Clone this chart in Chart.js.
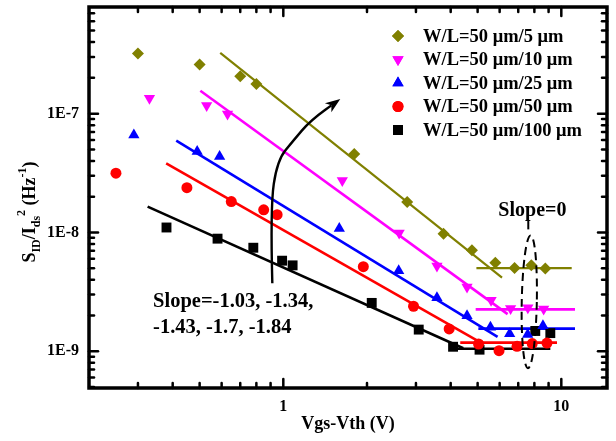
<!DOCTYPE html>
<html>
<head>
<meta charset="utf-8">
<script src="https://cdn.jsdelivr.net/npm/chart.js@4.4.1/dist/chart.umd.min.js"></script>
<style>
  html, body { margin: 0; padding: 0; background: #fff; }
  #c { display: block; }
</style>
</head>
<body>
<canvas id="c" width="616" height="441"></canvas>
<script>
// Vgs-Vth (V) and S_ID/I_ds^2 (Hz^-1), one pair per W/L
const vgs5   = [0.30, 0.50, 0.70, 0.80, 1.80, 2.79, 3.77, 4.77, 5.79, 6.79, 7.80, 8.76];
const sid5   = [3.21e-7, 2.59e-7, 2.06e-7, 1.78e-7, 4.58e-8, 1.80e-8, 9.76e-9, 7.06e-9, 5.56e-9, 5.01e-9, 5.28e-9, 4.96e-9];
const vgs10  = [0.33, 0.53, 0.63, 1.63, 2.61, 3.57, 4.58, 5.59, 6.57, 7.58, 8.64];
const sid10  = [1.35e-7, 1.17e-7, 9.94e-8, 2.74e-8, 9.9e-9, 5.22e-9, 3.47e-9, 2.69e-9, 2.29e-9, 2.32e-9, 2.27e-9];
const vgs25  = [0.29, 0.49, 0.59, 1.59, 2.60, 3.57, 4.58, 5.56, 6.52, 7.57, 8.59];
const sid25  = [6.6e-8, 4.8e-8, 4.35e-8, 1.08e-8, 4.75e-9, 2.82e-9, 1.99e-9, 1.59e-9, 1.40e-9, 1.38e-9, 1.64e-9];
const vgs50  = [0.25, 0.45, 0.65, 0.85, 0.95, 1.94, 2.94, 3.95, 5.04, 5.97, 6.93, 7.86, 8.88];
const sid50  = [3.15e-8, 2.38e-8, 1.82e-8, 1.55e-8, 1.41e-8, 5.15e-9, 2.39e-9, 1.54e-9, 1.15e-9, 1.01e-9, 1.10e-9, 1.16e-9, 1.17e-9];
const vgs100 = [0.38, 0.58, 0.78, 0.99, 1.08, 2.08, 3.07, 4.08, 5.08, 8.06, 9.13];
const sid100 = [1.10e-8, 8.86e-9, 7.43e-9, 5.78e-9, 5.28e-9, 2.55e-9, 1.52e-9, 1.09e-9, 1.03e-9, 1.48e-9, 1.42e-9];

// power-law fits (start, end) and flat tails
const fitX5 = [0.593, 6.12],  fitY5 = [3.24e-7, 4.16e-9];
const fitX10 = [0.503, 6.41], fitY10 = [1.56e-7, 2.05e-9];
const fitX25 = [0.412, 5.90], fitY25 = [5.93e-8, 1.32e-9];
const fitX50 = [0.379, 5.08], fitY50 = [3.82e-8, 1.20e-9];
const fitX100 = [0.325, 4.44], fitY100 = [1.65e-8, 1.06e-9];
const flatX5 = [4.95, 10.9],  flatY5 = [5.0e-9, 5.0e-9];
const flatX10 = [4.92, 11.2], flatY10 = [2.25e-9, 2.25e-9];
const flatX25 = [5.03, 11.2], flatY25 = [1.55e-9, 1.55e-9];
const flatX50 = [4.33, 9.65], flatY50 = [1.18e-9, 1.18e-9];
const flatX100 = [4.22, 9.13], flatY100 = [1.05e-9, 1.05e-9];

const labels = ['W/L=50 \u03bcm/5 \u03bcm', 'W/L=50 \u03bcm/10 \u03bcm', 'W/L=50 \u03bcm/25 \u03bcm', 'W/L=50 \u03bcm/50 \u03bcm', 'W/L=50 \u03bcm/100 \u03bcm'];
const colors = ['#808000', '#ff00ff', '#0000ff', '#ff0000', '#000000'];
const xTicks = [1, 10];
const yTicks = [1e-9, 1e-8, 1e-7];

// annotation anchors, in data units
const arcX = [0.913, 0.898, 0.951, 1.086, 1.251, 1.603];
const arcY = [3.73e-9, 1.63e-8, 4.03e-8, 5.93e-8, 8.73e-8, 1.33e-7];
const slopeLines = ['Slope=-1.03, -1.34,', '-1.43, -1.7, -1.84'];
const slopeTextX = 0.34, slopeTextY = [2.63e-9, 1.59e-9];
const zeroText = 'Slope=0', zeroX = 7.87, zeroY = 1.53e-8;
const ellX = [7.22, 7.67, 8.18], ellY = [9.44e-9, 7.19e-10];

const pts = (xs, ys) => xs.map((v, i) => ({ x: v, y: ys[i] }));
const FONT = 'Liberation Serif';

const markers = [
  { style: 'rectRot', r: 6, rot: 0 },
  { style: 'triangle', r: 6.5, rot: 180 },
  { style: 'triangle', r: 6.5, rot: 0 },
  { style: 'circle', r: 5.5, rot: 0 },
  { style: 'rect', r: 7, rot: 0 }
];
const series = [[vgs5, sid5], [vgs10, sid10], [vgs25, sid25], [vgs50, sid50], [vgs100, sid100]];
const fits = [[fitX5, fitY5, flatX5, flatY5], [fitX10, fitY10, flatX10, flatY10], [fitX25, fitY25, flatX25, flatY25],
              [fitX50, fitY50, flatX50, flatY50], [fitX100, fitY100, flatX100, flatY100]];

const datasets = [];
series.forEach((s, i) => {
  datasets.push({
    label: labels[i], data: pts(s[0], s[1]), showLine: false,
    pointStyle: markers[i].style, pointRadius: markers[i].r, pointRotation: markers[i].rot,
    backgroundColor: colors[i], borderColor: colors[i], pointBorderWidth: 0
  });
});
fits.forEach((f, i) => {
  [[f[0], f[1]], [f[2], f[3]]].forEach(p => {
    datasets.push({
      label: '', data: pts(p[0], p[1]), showLine: true, pointRadius: 0,
      borderColor: colors[i], borderWidth: i === 0 ? 2.2 : 2.6
    });
  });
});

const noPad = s => { s.paddingTop = 0; s.paddingBottom = 0; s.paddingLeft = 0; s.paddingRight = 0; };

const annotations = {
  id: 'annotations',
  afterDatasetsDraw(chart) {
    const { ctx, chartArea: a, scales: { x, y } } = chart;
    const px = v => x.getPixelForValue(v), py = v => y.getPixelForValue(v);
    ctx.save();
    ctx.strokeStyle = '#000';
    ctx.fillStyle = '#000';

    // curved arrow
    const P = arcX.map((v, i) => [px(v), py(arcY[i])]);
    ctx.lineWidth = 2.4;
    ctx.beginPath();
    ctx.moveTo(P[0][0], P[0][1]);
    for (let i = 1; i < P.length - 1; i++) {
      const mx = (P[i][0] + P[i + 1][0]) / 2, my = (P[i][1] + P[i + 1][1]) / 2;
      ctx.quadraticCurveTo(P[i][0], P[i][1], mx, my);
    }
    const tip = P[P.length - 1], prev = P[P.length - 2];
    const ang = Math.atan2(tip[1] - prev[1], tip[0] - prev[0]);
    const bx = tip[0] - 11 * Math.cos(ang), by = tip[1] - 11 * Math.sin(ang);
    ctx.lineTo(bx, by);
    ctx.stroke();
    ctx.beginPath();
    ctx.moveTo(tip[0], tip[1]);
    ctx.lineTo(tip[0] - 15 * Math.cos(ang) + 5.5 * Math.sin(ang), tip[1] - 15 * Math.sin(ang) - 5.5 * Math.cos(ang));
    ctx.lineTo(bx, by);
    ctx.lineTo(tip[0] - 15 * Math.cos(ang) - 5.5 * Math.sin(ang), tip[1] - 15 * Math.sin(ang) + 5.5 * Math.cos(ang));
    ctx.closePath();
    ctx.fill();

    // dashed ellipse round the flat tails
    const cx = px(ellX[1]), rx = (px(ellX[2]) - px(ellX[0])) / 2;
    const top = py(ellY[0]), bot = py(ellY[1]);
    ctx.lineWidth = 2;
    ctx.setLineDash([8, 5]);
    ctx.beginPath();
    ctx.ellipse(cx, (top + bot) / 2, rx, (bot - top) / 2, 0.02, 0, Math.PI * 2);
    ctx.stroke();
    ctx.setLineDash([]);
    ctx.beginPath();
    ctx.moveTo(cx - 1, py(zeroY) + 10);
    ctx.lineTo(cx - 1, top - 6);
    ctx.stroke();

    // text
    ctx.font = 'bold 20.5px "' + FONT + '"';
    ctx.textBaseline = 'middle';
    ctx.textAlign = 'left';
    slopeLines.forEach((t, i) => ctx.fillText(t, px(slopeTextX), py(slopeTextY[i])));
    ctx.textAlign = 'center';
    ctx.font = 'bold 20px "' + FONT + '"';
    ctx.fillText(zeroText, px(zeroX), py(zeroY));

    // legend
    ctx.font = 'bold 18.5px "' + FONT + '"';
    const lx = a.right - 209, tx = a.right - 184;
    chart.data.datasets.slice(0, 5).forEach((d, i) => {
      const ly = a.top + 29 + i * 23.5;
      ctx.fillStyle = d.backgroundColor;
      Chart.helpers.drawPoint(ctx, { pointStyle: d.pointStyle, radius: d.pointRadius, rotation: d.pointRotation, borderWidth: 0 }, lx, ly);
      ctx.fill();
      ctx.fillStyle = '#000';
      ctx.textAlign = 'left';
      ctx.fillText(d.label, tx, ly + 1);
    });

    // frame and inward ticks on all four sides
    ctx.lineWidth = 2.5;
    ctx.lineCap = 'round';
    const seg = (x1, y1, x2, y2) => { ctx.beginPath(); ctx.moveTo(x1, y1); ctx.lineTo(x2, y2); ctx.stroke(); };
    for (let d = -1; d <= 1; d++) for (let m = 1; m <= 9; m++) {
      const v = m * Math.pow(10, d);
      if (v <= x.min || v >= x.max) continue;
      const p = px(v), len = m === 1 ? 9 : 5;
      seg(p, a.bottom, p, a.bottom - len);
      seg(p, a.top, p, a.top + len);
    }
    for (let d = -10; d <= -7; d++) for (let m = 1; m <= 9; m++) {
      const v = m * Math.pow(10, d);
      if (v <= y.min || v >= y.max) continue;
      const p = py(v), len = m === 1 ? 9 : 5;
      seg(a.left, p, a.left + len, p);
      seg(a.right, p, a.right - len, p);
    }
    ctx.lineCap = 'butt';
    ctx.lineWidth = 3.5;
    ctx.strokeRect(a.left, a.top, a.right - a.left, a.bottom - a.top);

    // y-axis title with sub/superscripts
    const parts = [['S', 0, 18], ['ID', 5, 12], ['/I', 0, 18], ['ds', 5, 12], ['2', -10, 12], [' (Hz', 0, 18], ['-1', -9, 12], [')', 0, 18]];
    let total = 0;
    parts.forEach(p => { ctx.font = 'bold ' + p[2] + 'px "' + FONT + '"'; total += ctx.measureText(p[0]).width; });
    ctx.translate(35, 212);
    ctx.rotate(-Math.PI / 2);
    ctx.textAlign = 'left';
    ctx.textBaseline = 'alphabetic';
    let cur = -total / 2;
    parts.forEach(p => {
      ctx.font = 'bold ' + p[2] + 'px "' + FONT + '"';
      ctx.fillText(p[0], cur, p[1]);
      cur += ctx.measureText(p[0]).width;
    });
    ctx.restore();
  }
};

new Chart(document.getElementById('c'), {
  type: 'scatter',
  data: { datasets },
  options: {
    responsive: false,
    animation: false,
    layout: { padding: { left: 0, top: 6, right: 9, bottom: 0 } },
    plugins: { legend: { display: false }, tooltip: { enabled: false } },
    elements: { line: { tension: 0 } },
    scales: {
      x: {
        type: 'logarithmic', min: 0.2, max: 14.6,
        afterFit: s => { s.height = 53; noPad(s); },
        afterBuildTicks: s => { s.ticks = xTicks.map(v => ({ value: v })); },
        grid: { display: false, drawTicks: false },
        border: { display: false },
        ticks: { color: '#000', padding: 9, font: { family: FONT, size: 16, weight: 'bold' }, callback: v => String(v), maxRotation: 0, autoSkip: false },
        title: { display: true, text: 'Vgs-Vth (V)', color: '#000', padding: { top: 0, bottom: 6 }, font: { family: FONT, size: 18, weight: 'bold' } }
      },
      y: {
        type: 'logarithmic', min: 4.9e-10, max: 7.9e-7,
        afterFit: s => { s.width = 89; noPad(s); },
        afterBuildTicks: s => { s.ticks = yTicks.map(v => ({ value: v })); },
        grid: { display: false, drawTicks: false },
        border: { display: false },
        ticks: { color: '#000', padding: 10, font: { family: FONT, size: 16, weight: 'bold' }, callback: v => '1E' + Math.round(Math.log10(v)), autoSkip: false }
      }
    }
  },
  plugins: [annotations]
});
</script>
</body>
</html>
